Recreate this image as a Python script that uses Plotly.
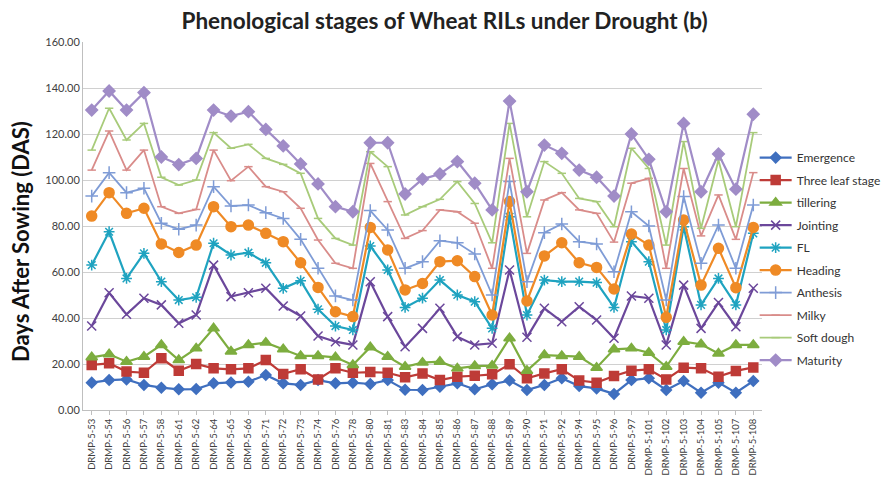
import plotly.graph_objects as go

lines = ["53", "54", "56", "57", "58", "61", "62", "64", "65", "66", "71", "72", "73", "74", "76", "78",
         "80", "81", "83", "84", "85", "86", "87", "88", "89", "90", "91", "92", "94", "95", "96", "97",
         "101", "102", "103", "104", "105", "107", "108"]
categories = ["DRMP-5-" + s for s in lines]

emergence = [11.9, 13.0, 13.3, 10.9, 9.7, 9.0, 9.1, 11.6, 12.0, 12.3, 15.2, 11.6, 10.9, 13.0, 11.6, 11.9,
             11.3, 13.0, 8.8, 8.7, 10.1, 11.6, 9.0, 11.2, 12.8, 8.7, 10.9, 13.8, 10.4, 9.4, 7.0, 13.0,
             13.8, 8.7, 12.6, 7.5, 11.9, 7.5, 12.6]
three_leaf = [19.6, 20.3, 16.7, 16.2, 22.5, 17.1, 20.0, 18.1, 17.7, 18.1, 21.7, 15.7, 17.7, 13.3, 18.1, 16.2,
              16.5, 16.2, 14.2, 15.9, 13.0, 14.5, 14.9, 15.5, 19.9, 13.8, 15.9, 17.7, 12.8, 11.9, 14.8, 17.1,
              17.7, 13.3, 18.4, 18.1, 14.5, 17.0, 18.5]
tillering = [22.9, 24.2, 21.0, 23.2, 28.3, 21.7, 26.8, 35.5, 25.4, 28.3, 29.3, 26.4, 23.5, 23.5, 22.9, 19.6,
             27.3, 23.2, 18.8, 20.6, 21.0, 18.1, 19.1, 19.3, 31.2, 17.1, 23.9, 23.5, 23.2, 18.4, 26.4, 26.8,
             24.9, 18.8, 29.7, 28.6, 24.6, 28.3, 28.3]
jointing = [36.5, 51.0, 41.6, 48.6, 45.7, 37.7, 41.3, 63.0, 49.3, 51.0, 52.9, 45.2, 40.9, 32.2, 29.7, 28.3,
            55.8, 40.6, 27.5, 35.5, 44.2, 31.9, 28.3, 29.0, 60.9, 31.6, 44.2, 38.4, 44.9, 39.1, 31.2, 49.6,
            48.6, 28.3, 54.3, 35.5, 46.7, 36.2, 52.9]
fl = [63.0, 77.5, 57.2, 68.1, 55.8, 47.8, 49.0, 72.5, 67.4, 68.4, 64.0, 52.9, 56.2, 43.8, 36.5, 34.8,
      71.3, 60.9, 44.6, 48.6, 56.5, 50.0, 47.1, 35.5, 84.0, 41.3, 56.5, 55.8, 55.8, 55.4, 44.6, 73.2,
      64.5, 34.8, 79.7, 45.7, 57.2, 45.7, 76.8]
heading = [84.3, 94.5, 85.5, 87.7, 72.2, 68.5, 71.7, 88.4, 79.7, 80.4, 76.8, 73.2, 64.0, 53.3, 42.7, 40.6,
           79.4, 69.6, 52.2, 55.0, 64.5, 64.9, 58.0, 41.3, 90.6, 47.4, 67.0, 72.7, 64.0, 62.0, 52.6, 76.5,
           71.7, 40.3, 82.6, 54.3, 70.3, 53.2, 79.4]
anthesis = [93.0, 103.2, 94.5, 96.4, 81.2, 78.6, 80.4, 97.1, 88.7, 89.1, 85.8, 83.3, 74.2, 61.6, 49.6, 47.8,
            86.7, 78.3, 61.6, 64.5, 73.6, 72.7, 67.8, 50.0, 99.3, 55.8, 77.1, 80.9, 73.2, 72.2, 60.1, 86.2,
            80.0, 47.8, 92.8, 63.8, 80.4, 61.6, 89.1]
milky = [104.3, 121.3, 104.3, 113.0, 88.4, 85.5, 87.2, 113.0, 99.7, 105.8, 97.1, 94.9, 87.7, 73.9, 63.8, 61.6,
         107.2, 90.6, 74.6, 78.0, 87.0, 86.2, 81.2, 61.6, 109.4, 68.1, 91.3, 94.5, 87.0, 85.5, 73.0, 98.6,
         100.7, 61.6, 105.0, 75.7, 93.5, 74.2, 103.2]
soft_dough = [113.0, 131.2, 117.4, 124.6, 101.2, 97.8, 100.0, 120.6, 113.8, 115.5, 109.4, 106.8, 102.9, 83.3, 74.6, 71.7,
              112.3, 105.8, 84.8, 88.4, 91.6, 99.3, 89.8, 72.7, 124.6, 84.0, 108.0, 102.9, 92.0, 90.6, 79.7, 113.8,
              105.0, 71.7, 116.7, 79.0, 108.7, 79.7, 120.6]
maturity = [130.4, 138.7, 130.4, 138.0, 110.0, 106.7, 109.4, 130.4, 127.8, 129.7, 122.0, 114.8, 107.0, 98.3, 88.4, 86.2,
            116.2, 116.2, 93.9, 100.4, 102.6, 108.0, 98.6, 87.0, 134.3, 94.9, 115.2, 111.6, 104.3, 101.2, 93.0, 120.0,
            109.0, 86.2, 124.6, 94.9, 111.3, 96.0, 128.6]

series = [
    ("Emergence", emergence, "#3F6FBF", "diamond", 8, 2.2),
    ("Three leaf stage", three_leaf, "#BE3B37", "square", 9, 2.2),
    ("tillering", tillering, "#7DAD3F", "triangle-up", 10, 2.2),
    ("Jointing", jointing, "#6B479B", "x-thin-open", 9, 2.2),
    ("FL", fl, "#1FA3C0", "asterisk-open", 9, 2.2),
    ("Heading", heading, "#EF8A25", "circle", 10, 2.2),
    ("Anthesis", anthesis, "#7F9CD6", "cross-thin-open", 9, 1.8),
    ("Milky", milky, "#D98C8A", "line-ew-open", 6, 1.8),
    ("Soft dough", soft_dough, "#A8CB7A", "line-ew-open", 6, 1.8),
    ("Maturity", maturity, "#A08CC7", "diamond", 9, 2.2),
]

fig = go.Figure()
for name, vals, col, sym, size, w in series:
    fig.add_trace(go.Scatter(
        x=categories, y=vals, name=name, mode="lines+markers", legendgroup=name,
        line=dict(color=col, width=w),
        marker=dict(symbol=sym, size=size, color=col, line=dict(color=col, width=1.5)),
    ))

# page body adds ~8px offset, margins compensate for it
fig.update_layout(
    width=891, height=481,
    margin=dict(l=75, r=137, t=34, b=79, autoexpand=False),
    paper_bgcolor="white", plot_bgcolor="white",
    font=dict(family="Lato, Open Sans, sans-serif", color="#404040"),
    title=dict(text="<b>Phenological stages of Wheat RILs under Drought (b)</b>",
               x=0.49, xanchor="center", y=0.972, yanchor="middle",
               font=dict(size=22.5, color="#222222")),
    showlegend=True,
    legend=dict(xref="container", x=0.838, xanchor="left", y=0.41, yanchor="middle",
                font=dict(size=12, color="#333333"), tracegroupgap=3.5,
                itemwidth=32, bgcolor="rgba(0,0,0,0)"),
    annotations=[dict(text="<b>Days After Sowing (DAS)</b>", textangle=-90,
                      xref="paper", yref="paper", x=-0.091, y=0.457,
                      xanchor="center", yanchor="middle", showarrow=False,
                      font=dict(size=22, color="#111111"))],
)
fig.update_xaxes(
    type="category", range=[-0.5, len(categories) - 0.5], tickangle=-90,
    tickfont=dict(size=9.5, color="#404040"),
    showline=True, linecolor="#BFBFBF", linewidth=1, showgrid=False,
    ticks="outside", ticklen=4, tickcolor="#BFBFBF", automargin=False,
)
fig.update_yaxes(
    range=[0, 160], dtick=20, tickformat=".2f",
    tickfont=dict(size=11, color="#404040"),
    showgrid=True, gridcolor="#D0D0D0", gridwidth=1,
    showline=True, linecolor="#BFBFBF", linewidth=1, zeroline=False, automargin=False,
)

fig.write_html("out.html")
